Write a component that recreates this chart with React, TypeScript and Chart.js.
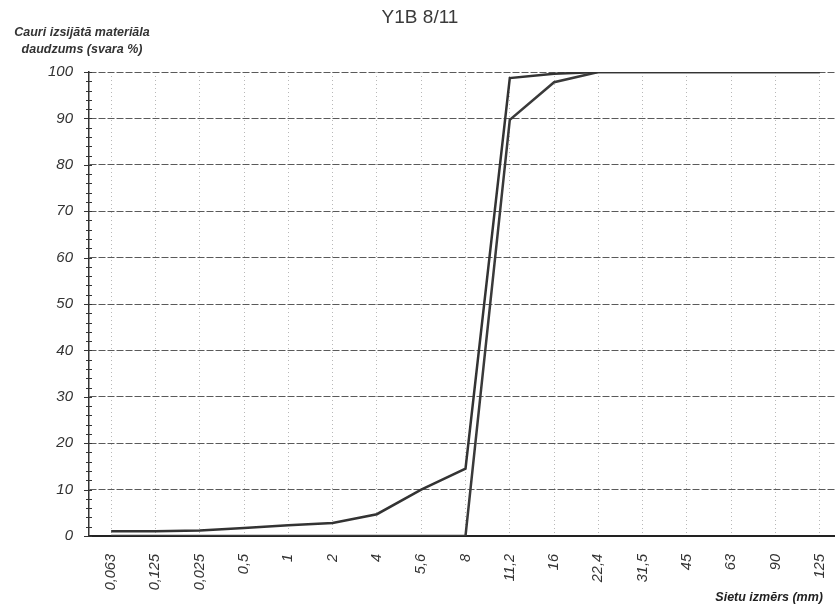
import React, { useEffect, useRef } from "react";
import { Chart, registerables } from "chart.js";

Chart.register(...registerables);

const categories = ["0,063", "0,125", "0,025", "0,5", "1", "2", "4", "5,6", "8", "11,2", "16", "22,4", "31,5", "45", "63", "90", "125"];
const seriesA = [1, 1, 1.2, 1.7, 2.3, 2.8, 4.7, 10, 14.5, 98.7, 99.6, 100, 100, 100, 100, 100, 100];
const seriesB = [0, 0, 0, 0, 0, 0, 0, 0, 0, 89.7, 97.8, 100, 100, 100, 100, 100, 100];
const yTicks = [0, 10, 20, 30, 40, 50, 60, 70, 80, 90, 100];
const chartTitle = "Y1B 8/11";
const yTitleLines = ["Cauri izsijātā materiāla", "daudzums (svara %)"];
const xTitle = "Sietu izmērs (mm)";

const FONT = "'Liberation Sans', Arial, sans-serif";

const decorPlugin = {
  id: "decor",
  afterDraw(chart: any) {
    const ctx = chart.ctx;
    const y = chart.scales.y;
    ctx.save();
    ctx.strokeStyle = "#333";
    ctx.lineWidth = 1;
    for (let v = 0; v <= 100; v += 2) {
      const py = Math.round(y.getPixelForValue(v)) + 0.5;
      const major = v % 10 === 0;
      ctx.beginPath();
      ctx.moveTo(y.right - (major ? 5 : 3), py);
      ctx.lineTo(y.right + 3, py);
      ctx.stroke();
    }
    ctx.fillStyle = "#3a3a3a";
    ctx.font = `19px ${FONT}`;
    ctx.textAlign = "center";
    ctx.textBaseline = "middle";
    ctx.fillText(chartTitle, 420, 18);
    ctx.fillStyle = "#333";
    ctx.font = `bold italic 12.5px ${FONT}`;
    ctx.textAlign = "center";
    ctx.fillText(yTitleLines[0], 82, 33);
    ctx.fillText(yTitleLines[1], 82, 50);
    ctx.fillStyle = "#222";
    ctx.textAlign = "right";
    ctx.fillText(xTitle, 823, 598);
    ctx.restore();
  },
};

export default function App() {
  const ref = useRef<HTMLCanvasElement | null>(null);
  useEffect(() => {
    if (!ref.current) return;
    const chart = new Chart(ref.current, {
      type: "line",
      data: {
        labels: categories,
        datasets: [
          { data: seriesA, borderColor: "#333", borderWidth: 2.5, pointRadius: 0, tension: 0, fill: false },
          { data: seriesB, borderColor: "#3a3a3a", borderWidth: 2.5, pointRadius: 0, tension: 0, fill: false },
        ],
      },
      options: {
        animation: false,
        responsive: false,
        layout: { padding: { top: 72, right: 0, bottom: 0, left: 0 } },
        plugins: { legend: { display: false }, title: { display: false }, tooltip: { enabled: false } },
        scales: {
          x: {
            type: "category",
            offset: true,
            grid: { offset: false, color: "#b8b8b8", lineWidth: 1, drawTicks: false },
            border: { display: true, color: "#222", width: 2, dash: [1, 3] },
            ticks: {
              minRotation: 90,
              maxRotation: 90,
              color: "#333",
              padding: 18,
              font: { family: FONT, size: 14.5, style: "italic" },
            },
            afterFit(scale: any) {
              scale.height = 72;
              scale.paddingLeft = 0;
              scale.paddingRight = 0;
            },
          },
          y: {
            min: 0,
            max: 100,
            afterBuildTicks(scale: any) {
              scale.ticks = yTicks.map((v) => ({ value: v }));
            },
            grid: {
              color: (c: any) => (c.tick && c.tick.value === 0 ? "rgba(0,0,0,0)" : "#5a5a5a"),
              lineWidth: 1,
              drawTicks: false,
            },
            border: { display: true, color: "#333", width: 1.5, dash: [7, 2] },
            ticks: {
              color: "#333",
              padding: 16,
              font: { family: FONT, size: 15, style: "italic" },
            },
            afterFit(scale: any) {
              scale.width = 89;
              scale.paddingTop = 0;
              scale.paddingBottom = 0;
            },
          },
        },
      },
      plugins: [decorPlugin],
    });
    return () => chart.destroy();
  }, []);
  return (
    <div style={{ position: "fixed", left: 0, top: 0, width: 835, height: 608, background: "#fff", overflow: "hidden" }}>
      <canvas ref={ref} width={842} height={608} style={{ display: "block" }} />
    </div>
  );
}
